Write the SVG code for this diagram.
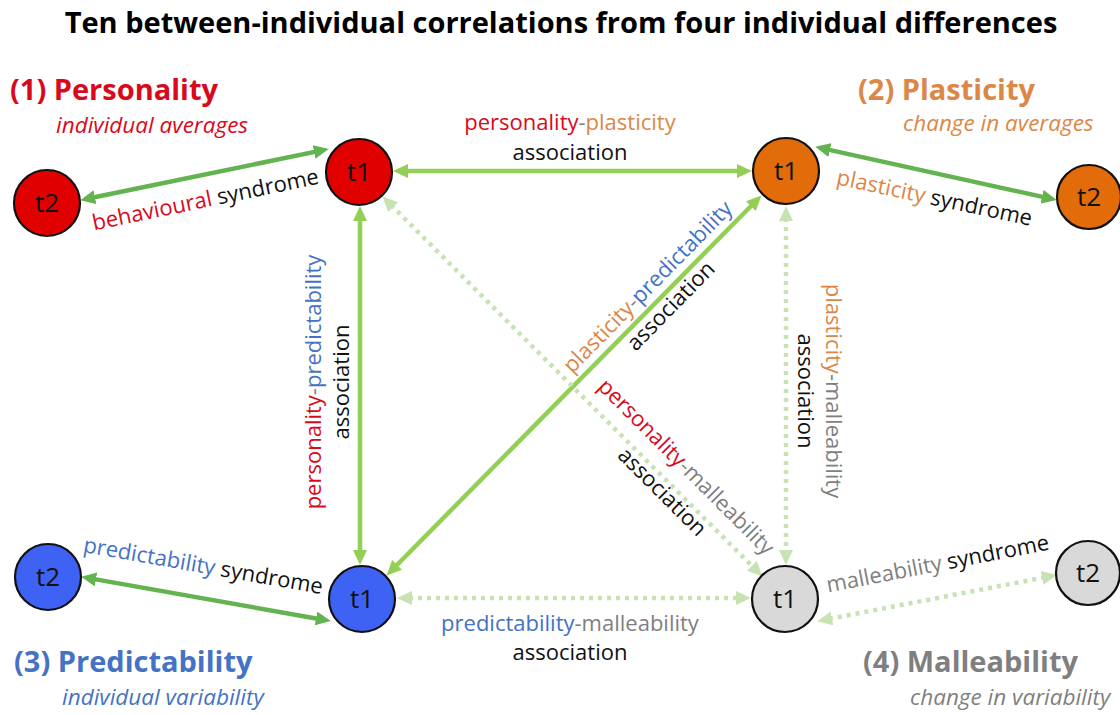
<svg xmlns="http://www.w3.org/2000/svg" width="1120" height="715" viewBox="0 0 1120 715">
  <style>
    text { font-family: "Open Sans", "Liberation Sans", sans-serif; }
    .title { font-size: 29px; font-weight: bold; fill: #000; }
    .head { font-size: 29px; font-weight: bold; }
    .sub { font-size: 22.5px; font-style: italic; }
    .lbl { font-size: 22px; fill: #111; }
    .nlbl { font-size: 26px; fill: #111; text-anchor: middle; }
    .red { fill: #D9091B; }
    .org { fill: #DC8745; }
    .blu { fill: #4472C4; }
    .gry { fill: #7F7F7F; }
    .node { stroke: #111; stroke-width: 2.2; }
    .syn { stroke: #63B350; stroke-width: 4.5; fill: none; }
    .assoc { stroke: #93CF55; stroke-width: 4.5; fill: none; }
    .dot { stroke: #C7E2B3; stroke-width: 4.5; fill: none; stroke-dasharray: 4 5; }
  </style>
  <defs>
    <marker id="ahSyn" markerUnits="userSpaceOnUse" markerWidth="16" markerHeight="14" refX="3" refY="7" orient="auto-start-reverse">
      <path d="M0,0 L15,7 L0,14 Z" fill="#63B350"/>
    </marker>
    <marker id="ahAssoc" markerUnits="userSpaceOnUse" markerWidth="16" markerHeight="14" refX="3" refY="7" orient="auto-start-reverse">
      <path d="M0,0 L15,7 L0,14 Z" fill="#93CF55"/>
    </marker>
    <marker id="ahDot" markerUnits="userSpaceOnUse" markerWidth="16" markerHeight="14" refX="3" refY="7" orient="auto-start-reverse">
      <path d="M0,0 L15,7 L0,14 Z" fill="#C7E2B3"/>
    </marker>
  </defs>

  <rect width="1120" height="715" fill="#fff"/>

  <text class="title" x="561" y="33" text-anchor="middle">Ten between-individual correlations from four individual differences</text>

  <!-- connectors -->
  <g id="connectors">
    <!-- within-trait syndromes -->
    <line class="syn" x1="92" y1="197.8" x2="317" y2="151.4" marker-start="url(#ahSyn)" marker-end="url(#ahSyn)"/>
    <line class="syn" x1="827" y1="149.4" x2="1045" y2="197.4" marker-start="url(#ahSyn)" marker-end="url(#ahSyn)"/>
    <line class="syn" x1="93" y1="578.9" x2="319" y2="619" marker-start="url(#ahSyn)" marker-end="url(#ahSyn)"/>
    <line class="dot" x1="829" y1="618.9" x2="1045" y2="577.3" marker-start="url(#ahDot)" marker-end="url(#ahDot)"/>
    <!-- between-trait associations -->
    <line class="assoc" x1="405" y1="171" x2="740" y2="171" marker-start="url(#ahAssoc)" marker-end="url(#ahAssoc)"/>
    <line class="assoc" x1="360" y1="218" x2="360" y2="553" marker-start="url(#ahAssoc)" marker-end="url(#ahAssoc)"/>
    <line class="assoc" x1="395" y1="567" x2="753" y2="204" marker-start="url(#ahAssoc)" marker-end="url(#ahAssoc)"/>
    <line class="dot" x1="391" y1="205" x2="754" y2="568" marker-start="url(#ahDot)" marker-end="url(#ahDot)"/>
    <line class="dot" x1="786" y1="218" x2="786" y2="553" marker-start="url(#ahDot)" marker-end="url(#ahDot)"/>
    <line class="dot" x1="409" y1="598" x2="739" y2="598" marker-start="url(#ahDot)" marker-end="url(#ahDot)"/>
  </g>

  <!-- connector labels -->
  <g id="connector-labels" class="lbl">
    <text transform="translate(207,207) rotate(-11.7)" text-anchor="middle"><tspan class="red">behavioural</tspan> syndrome</text>
    <text transform="translate(933,205) rotate(12)" text-anchor="middle"><tspan class="org">plasticity</tspan> syndrome</text>
    <text transform="translate(202,573) rotate(10)" text-anchor="middle"><tspan class="blu">predictability</tspan> syndrome</text>
    <text transform="translate(939,571) rotate(-11)" text-anchor="middle"><tspan class="gry">malleability</tspan> syndrome</text>

    <text x="570" y="130" text-anchor="middle"><tspan class="red">personality</tspan><tspan class="gry">-</tspan><tspan class="org">plasticity</tspan></text>
    <text x="570" y="160" text-anchor="middle">association</text>

    <text transform="translate(321,382) rotate(-90)" text-anchor="middle"><tspan class="red">personality</tspan><tspan class="gry">-</tspan><tspan class="blu">predictability</tspan></text>
    <text transform="translate(349,382) rotate(-90)" text-anchor="middle">association</text>

    <text transform="translate(653,292) rotate(-45.5)" text-anchor="middle"><tspan class="org">plasticity</tspan><tspan class="gry">-</tspan><tspan class="blu">predictability</tspan></text>
    <text transform="translate(676,311) rotate(-45.5)" text-anchor="middle">association</text>

    <text transform="translate(681,472) rotate(45)" text-anchor="middle"><tspan class="red">personality</tspan><tspan class="gry">-malleability</tspan></text>
    <text transform="translate(657,497) rotate(45)" text-anchor="middle">association</text>

    <text transform="translate(826,391) rotate(90)" text-anchor="middle"><tspan class="org">plasticity</tspan><tspan class="gry">-malleability</tspan></text>
    <text transform="translate(798,391) rotate(90)" text-anchor="middle">association</text>

    <text x="570" y="631" text-anchor="middle"><tspan class="blu">predictability</tspan><tspan class="gry">-malleability</tspan></text>
    <text x="570" y="660" text-anchor="middle">association</text>
  </g>

  <!-- (1) Personality -->
  <g id="personality">
    <text class="head red" x="10" y="100">(1) Personality</text>
    <text class="sub red" x="56" y="133">individual averages</text>
  </g>
  <g id="personality-t1">
    <circle class="node" cx="359" cy="172" r="33" fill="#E00000"/>
    <text class="nlbl" x="359" y="181">t1</text>
  </g>
  <g id="personality-t2">
    <circle class="node" cx="47" cy="203" r="33" fill="#E00000"/>
    <text class="nlbl" x="47" y="212">t2</text>
  </g>

  <!-- (2) Plasticity -->
  <g id="plasticity">
    <text class="head org" x="858" y="100">(2) Plasticity</text>
    <text class="sub org" x="903" y="131">change in averages</text>
  </g>
  <g id="plasticity-t1">
    <circle class="node" cx="786" cy="171" r="33" fill="#E26B0A"/>
    <text class="nlbl" x="786" y="180">t1</text>
  </g>
  <g id="plasticity-t2">
    <circle class="node" cx="1089" cy="197" r="32" fill="#E26B0A"/>
    <text class="nlbl" x="1089" y="206">t2</text>
  </g>

  <!-- (3) Predictability -->
  <g id="predictability">
    <text class="head blu" x="14" y="672">(3) Predictability</text>
    <text class="sub blu" x="62" y="705">individual variability</text>
  </g>
  <g id="predictability-t1">
    <circle class="node" cx="362" cy="599" r="33" fill="#3E62F3"/>
    <text class="nlbl" x="362" y="608">t1</text>
  </g>
  <g id="predictability-t2">
    <circle class="node" cx="48" cy="577" r="33" fill="#3E62F3"/>
    <text class="nlbl" x="48" y="586">t2</text>
  </g>

  <!-- (4) Malleability -->
  <g id="malleability">
    <text class="head gry" x="863" y="672">(4) Malleability</text>
    <text class="sub gry" x="910" y="705">change in variability</text>
  </g>
  <g id="malleability-t1">
    <circle class="node" cx="785" cy="599" r="33" fill="#D9D9D9"/>
    <text class="nlbl" x="785" y="608">t1</text>
  </g>
  <g id="malleability-t2">
    <circle class="node" cx="1088" cy="573" r="32" fill="#D9D9D9"/>
    <text class="nlbl" x="1088" y="582">t2</text>
  </g>
</svg>
